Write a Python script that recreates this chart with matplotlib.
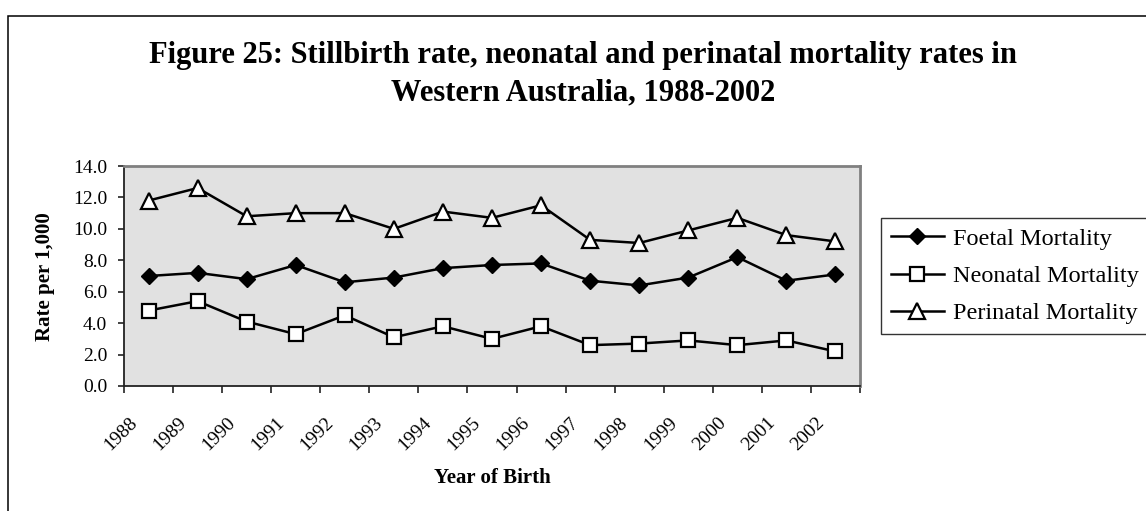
import matplotlib
matplotlib.use("Agg")
import matplotlib.pyplot as plt
from matplotlib.patches import Rectangle
from matplotlib.transforms import ScaledTranslation
import numpy as np

plt.rcParams['font.family'] = ['Liberation Serif', 'DejaVu Serif']

years = ["1988", "1989", "1990", "1991", "1992", "1993", "1994", "1995",
         "1996", "1997", "1998", "1999", "2000", "2001", "2002"]
foetal = [7.0, 7.2, 6.8, 7.7, 6.6, 6.9, 7.5, 7.7, 7.8, 6.7, 6.4, 6.9, 8.2, 6.7, 7.1]
neonatal = [4.8, 5.4, 4.1, 3.3, 4.5, 3.1, 3.8, 3.0, 3.8, 2.6, 2.7, 2.9, 2.6, 2.9, 2.2]
perinatal = [11.8, 12.6, 10.8, 11.0, 11.0, 10.0, 11.1, 10.7, 11.5, 9.3, 9.1, 9.9, 10.7, 9.6, 9.2]
yticks = [0, 2, 4, 6, 8, 10, 12, 14]
title_lines = ["Figure 25: Stillbirth rate, neonatal and perinatal mortality rates in",
               "Western Australia, 1988-2002"]

W, H = 1146, 511
fig = plt.figure(figsize=(W / 100, H / 100), dpi=100)

# outer frame (only top and left visible)
fig.patches.append(Rectangle((8 / W, -0.2), 1.5, (1 - 15.5 / H) + 0.2,
                             transform=fig.transFigure, fill=False,
                             edgecolor='black', linewidth=1.1))

left, right, top, bottom = 124, 860, 166, 386
ax = fig.add_axes([left / W, 1 - bottom / H, (right - left) / W, (bottom - top) / H])
ax.set_facecolor('#E1E1E1')

x = np.arange(len(years))
ax.plot(x, foetal, color='black', lw=1.8, marker='D', ms=8.5,
        mfc='black', mec='black', label='Foetal Mortality', zorder=3)
ax.plot(x, neonatal, color='black', lw=1.8, marker='s', ms=10.5,
        mfc='white', mec='black', mew=1.6, label='Neonatal Mortality', zorder=3)
ax.plot(x, perinatal, color='black', lw=1.8, marker='^', ms=11.5,
        mfc='white', mec='black', mew=1.6, label='Perinatal Mortality', zorder=3)

ax.set_xlim(-0.5, len(years) - 0.5)
ax.set_ylim(0, 14)
ax.set_yticks(yticks)
ax.set_yticklabels([f"{v:.1f}" for v in yticks], fontsize=14)
ax.tick_params(axis='y', direction='out', length=4, width=1.2, pad=8, color='#222222')

ax.set_xticks(np.arange(-0.5, len(years), 1.0))
ax.set_xticklabels([])
ax.tick_params(axis='x', which='major', direction='out', length=5, width=1.2, color='#222222')
ax.set_xticks(x, minor=True)
ax.set_xticklabels(years, minor=True, fontsize=14, rotation=45, ha='right', va='top')
ax.tick_params(axis='x', which='minor', length=0, pad=20.5)
off = ScaledTranslation(-0.08, 0, fig.dpi_scale_trans)
for lab in ax.get_xticklabels(minor=True):
    lab.set_transform(lab.get_transform() + off)

for s in ['left', 'bottom']:
    ax.spines[s].set_color('#222222')
    ax.spines[s].set_linewidth(1.3)
for s in ['top', 'right']:
    ax.spines[s].set_color('#808080')
    ax.spines[s].set_linewidth(2.0)

fig.text(45 / W, 1 - 277 / H, "Rate per 1,000", rotation=90, fontsize=15,
         fontweight='bold', ha='center', va='center')
fig.text(492 / W, 1 - 478 / H, "Year of Birth", fontsize=15,
         fontweight='bold', ha='center', va='center')

fig.text(583 / W, 1 - 63 / H, title_lines[0], fontsize=22, fontweight='bold',
         ha='center', va='baseline')
fig.text(583 / W, 1 - 100 / H, title_lines[1], fontsize=22, fontweight='bold',
         ha='center', va='baseline')

leg = ax.legend(loc='upper left', bbox_to_anchor=(881 / W, 1 - 218 / H),
                bbox_transform=fig.transFigure, borderaxespad=0,
                fontsize=17.5, frameon=True, fancybox=False,
                handlelength=2.2, handletextpad=0.35, borderpad=0.4,
                labelspacing=0.63)
leg.get_frame().set_edgecolor('black')
leg.get_frame().set_linewidth(1.0)

fig.savefig("out.png", dpi=100)
